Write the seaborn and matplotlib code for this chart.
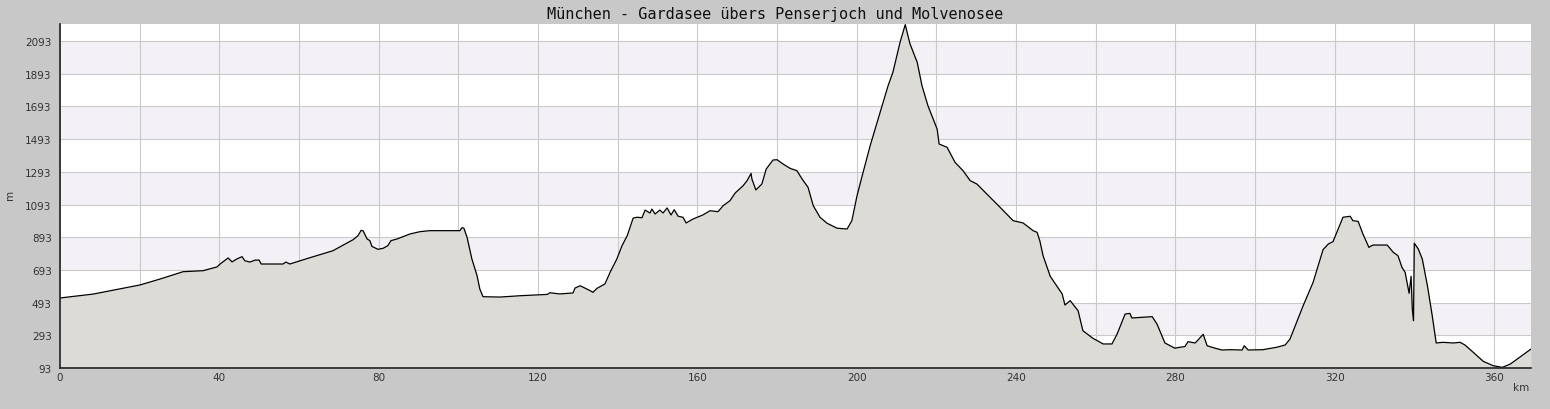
import numpy as np
import pandas as pd
import matplotlib
matplotlib.use("Agg")
import matplotlib.pyplot as plt
from matplotlib.ticker import MultipleLocator, FuncFormatter, FixedLocator
import seaborn as sns

title = "München - Gardasee übers Penserjoch und Molvenosee"
x_label = "km"
y_label = "m"

km = [0, 2.0, 8.3, 20.1, 25.1, 30.9, 35.9, 39.4, 40.2, 42.2, 43.2, 44.4, 45.7, 46.4, 47.7,
      49.0, 50.0, 50.5, 56.0, 56.7, 57.7, 59.8, 62.8, 68.5, 73.6, 74.8, 75.6, 76.1, 77.1,
      77.8, 78.3, 79.8, 81.1, 82.3, 83.1, 84.6, 87.9, 90.4, 92.9, 98.7, 100.4, 100.9, 101.4,
      102.2, 103.4, 104.7, 105.4, 106.2, 110.5, 115.5, 118.8, 122.3, 123.0, 125.5, 128.8,
      129.3, 130.6, 133.1, 133.8, 134.8, 136.8, 138.1, 139.8, 141.1, 142.4, 143.9, 144.9,
      146.1, 146.9, 148.1, 148.6, 149.4, 150.6, 151.4, 152.4, 153.4, 154.2, 155.2, 156.4,
      157.2, 158.9, 161.4, 163.2, 165.2, 166.5, 168.2, 169.5, 171.5, 172.5, 173.5, 173.7,
      174.7, 176.2, 177.3, 179.0, 180.0, 181.5, 183.3, 185.0, 186.3, 187.8, 189.1, 190.8,
      192.6, 195.1, 197.6, 198.8, 200.1, 201.4, 203.4, 205.9, 207.9, 209.1, 210.9, 212.2,
      213.4, 215.2, 216.4, 217.9, 220.2, 220.7, 222.7, 224.7, 226.7, 228.5, 230.2, 232.7,
      236.0, 239.3, 241.8, 244.3, 245.3, 246.0, 246.8, 248.6, 250.3, 251.6, 252.3, 253.6,
      255.6, 256.8, 259.3, 261.9, 264.1, 265.4, 267.4, 268.6, 269.1, 274.2, 275.4, 277.4,
      279.9, 281.2, 282.4, 283.2, 285.0, 287.0, 288.0, 290.0, 291.7, 293.7, 296.8, 297.3,
      298.3, 302.0, 305.5, 307.6, 308.8, 312.1, 314.6, 317.1, 318.4, 319.6, 320.9, 322.1,
      323.9, 324.6, 325.9, 327.1, 328.6, 329.6, 333.2, 334.7, 335.9, 336.9, 337.7, 338.7,
      339.2, 339.5, 339.8, 340.0, 341.0, 342.0, 343.3, 344.5, 345.5, 347.2, 349.8, 351.5,
      352.7, 354.8, 357.3, 359.8, 362.1, 364.1, 369.3]

elev = [521, 527, 545, 601, 637, 682, 688, 711, 729, 766, 742, 760, 774, 749, 741,
        753, 753, 729, 729, 741, 729, 745, 768, 810, 878, 902, 935, 932, 882,
        872, 837, 819, 825, 841, 872, 882, 913, 927, 933, 933, 933, 951, 948,
        892, 760, 658, 576, 529, 527, 535, 539, 543, 553, 546, 552,
        582, 596, 566, 556, 580, 607, 678, 760, 841, 902, 1010, 1015,
        1012, 1059, 1041, 1065, 1035, 1059, 1041, 1072, 1029, 1061, 1021, 1015,
        980, 1004, 1029, 1055, 1049, 1086, 1116, 1163, 1208, 1239, 1283, 1249,
        1182, 1218, 1310, 1365, 1367, 1341, 1314, 1300, 1249, 1198, 1086, 1015,
        978, 948, 943, 994, 1147, 1269, 1453, 1657, 1820, 1901, 2085, 2193,
        2075, 1963, 1820, 1697, 1555, 1463, 1443, 1351, 1300, 1239, 1218, 1157,
        1076, 994, 980, 933, 923, 870, 780, 654, 593, 546, 478, 505,
        443, 321, 275, 240, 240, 301, 423, 427, 399, 407, 362, 246,
        214, 220, 224, 254, 246, 299, 229, 214, 203, 205, 203, 229,
        203, 205, 220, 234, 270, 474, 617, 817, 851, 866, 943, 1015,
        1021, 994, 990, 913, 831, 845, 845, 801, 780, 709, 678, 550,
        654, 454, 382, 856, 821, 760, 596, 413, 246, 250, 246, 250,
        234, 189, 134, 107, 97, 117, 209]

y_ticks = [93, 293, 493, 693, 893, 1093, 1293, 1493, 1693, 1893, 2093]
y_minor = [193, 393, 593, 793, 993, 1193, 1393, 1593, 1793, 1993, 2193]

df = pd.DataFrame({"km": km, "m": elev})

sns.set_style("white")
plt.rcParams["font.family"] = ["DejaVu Sans"]

bg = "#c8c8c8"
fig = plt.figure(figsize=(15.5, 4.1), dpi=100, facecolor=bg)
ax = fig.add_axes([60 / 1550, 41 / 410, 1471 / 1550, 344 / 410])
ax.set_facecolor("white")

# alternating bands
for i in range(1, len(y_ticks) - 1, 2):
    ax.axhspan(y_ticks[i], y_ticks[i + 1], color="#f3f1f5", zorder=0, lw=0)

ax.fill_between(df["km"], df["m"], 0, color="#dcdbd6", zorder=2, lw=0)
sns.lineplot(data=df, x="km", y="m", ax=ax, color="black", linewidth=0.9,
             estimator=None, sort=False, zorder=3)

ax.set_xlim(0, 369.3)
ax.set_ylim(93, 2197)

ax.xaxis.set_major_locator(MultipleLocator(20))
ax.xaxis.set_minor_locator(MultipleLocator(10))
ax.xaxis.set_major_formatter(FuncFormatter(lambda v, p: f"{int(round(v))}" if round(v) % 40 == 0 else ""))
ax.yaxis.set_major_locator(FixedLocator(y_ticks))
ax.yaxis.set_minor_locator(FixedLocator(y_minor))

ax.grid(True, which="major", color="#cacaca", linewidth=0.8, zorder=1)
ax.set_axisbelow(True)

for s in ["top", "right"]:
    ax.spines[s].set_visible(False)
for s in ["left", "bottom"]:
    ax.spines[s].set_color("#222222")
    ax.spines[s].set_linewidth(1.2)
    ax.spines[s].set_zorder(5)

ax.tick_params(axis="both", which="major", direction="in", length=5, width=1,
               color="#222222", labelsize=7.5, labelcolor="#333333")
ax.tick_params(axis="both", which="minor", direction="in", length=3.5, width=1,
               color="#222222")
ax.tick_params(axis="y", which="major", pad=6)
ax.tick_params(axis="x", which="major", pad=3)

ax.set_xlabel("")
ax.set_ylabel("")
fig.text(1521 / 1550, 1 - 388 / 410, x_label, ha="center", va="center",
         fontsize=7.5, color="#333333")
fig.text(10 / 1550, 1 - 195 / 410, y_label, ha="center", va="center",
         fontsize=7.5, color="#333333", rotation=90)
fig.text(775 / 1550, 1 - 14 / 410, title, ha="center", va="center",
         fontsize=11, color="#111111", family="DejaVu Sans Mono")

fig.savefig("out.png", dpi=100, facecolor=bg)
